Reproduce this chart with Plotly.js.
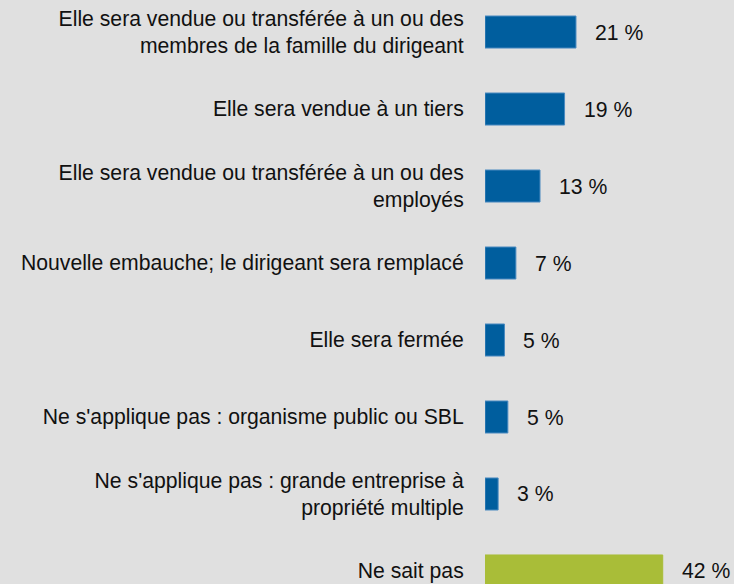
<!DOCTYPE html>
<html>
<head>
<meta charset="utf-8">
<script src="https://cdn.plot.ly/plotly-3.0.1.min.js"></script>
<style>html,body{margin:0;padding:0;background:#e0e0e0;}#chart{width:734px;height:584px;}</style>
</head>
<body>
<div id="chart"></div>
<script>
const categories = [
  "Elle sera vendue ou transférée à un ou des<br>membres de la famille du dirigeant",
  "Elle sera vendue à un tiers",
  "Elle sera vendue ou transférée à un ou des<br>employés",
  "Nouvelle embauche; le dirigeant sera remplacé",
  "Elle sera fermée",
  "Ne s'applique pas : organisme public ou SBL",
  "Ne s'applique pas : grande entreprise à<br>propriété multiple",
  "Ne sait pas"
];
const values = [21.5, 18.8, 13.0, 7.3, 4.6, 5.4, 3.1, 42.0];
const valueLabels = ["21 %", "19 %", "13 %", "7 %", "5 %", "5 %", "3 %", "42 %"];
const barColors = ["#005e9e", "#005e9e", "#005e9e", "#005e9e", "#005e9e", "#005e9e", "#005e9e", "#a9bd38"];
const lineColors = ["#4a8ac0", "#4a8ac0", "#4a8ac0", "#4a8ac0", "#4a8ac0", "#4a8ac0", "#4a8ac0", "#a9bd38"];

const fontFam = "Liberation Sans, Arial, sans-serif";
const fs = 21.2;

const trace = {
  type: "bar",
  orientation: "h",
  x: values,
  y: categories,
  marker: {color: barColors, line: {color: lineColors, width: 1}},
  hoverinfo: "none"
};

const annotations = values.map((v, i) => ({
  x: v, y: categories[i], xref: "x", yref: "y",
  text: valueLabels[i], showarrow: false,
  xanchor: "left", yanchor: "middle", xshift: 17,
  font: {family: fontFam, size: fs, color: "#111"}
}));

const layout = {
  width: 734, height: 584,
  margin: {l: 485, r: 4, t: 0, b: 0},
  paper_bgcolor: "#e0e0e0",
  plot_bgcolor: "#e0e0e0",
  showlegend: false,
  bargap: 0.584,
  xaxis: {range: [0, 57.9], visible: false, fixedrange: true},
  yaxis: {
    type: "category",
    categoryorder: "array",
    categoryarray: categories,
    range: [7.169, -0.416],
    showgrid: false, zeroline: false, showline: false,
    ticks: "outside", ticklen: 16, tickcolor: "rgba(0,0,0,0)",
    tickfont: {family: fontFam, size: fs, color: "#111"},
    automargin: false
  },
  annotations: annotations
};

Plotly.newPlot("chart", [trace], layout, {displayModeBar: false, staticPlot: true});
</script>
</body>
</html>
